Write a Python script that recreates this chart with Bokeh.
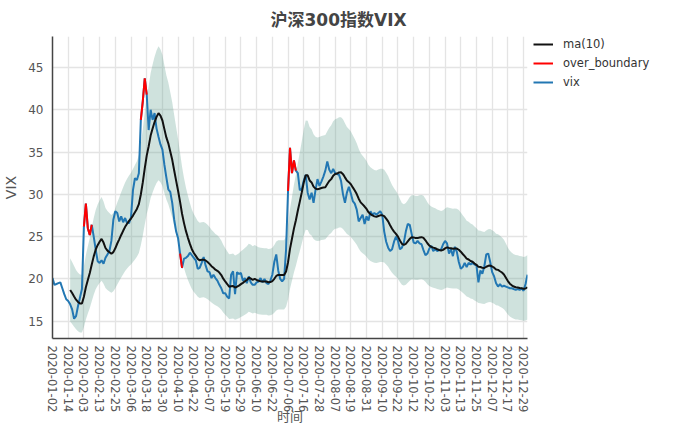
import math
import numpy as np
import pandas as pd
from bokeh.plotting import figure
from bokeh.layouts import row
from bokeh.models import Range1d, FixedTicker, Legend, LegendItem, ColumnDataSource
from bokeh.embed import file_html
from bokeh.resources import INLINE

# ---- data ----
tick_labels = ["2020-01-02", "2020-01-14", "2020-02-03", "2020-02-13", "2020-02-25",
               "2020-03-06", "2020-03-18", "2020-03-30", "2020-04-10", "2020-04-22",
               "2020-05-07", "2020-05-19", "2020-05-29", "2020-06-10", "2020-06-22",
               "2020-07-06", "2020-07-16", "2020-07-28", "2020-08-07", "2020-08-19",
               "2020-08-31", "2020-09-10", "2020-09-22", "2020-10-12", "2020-10-22",
               "2020-11-03", "2020-11-13", "2020-11-25", "2020-12-07", "2020-12-17",
               "2020-12-29"]
tick_step = 8

vix = [
    20.1, 19.3, 19.4, 19.5, 19.6, 18.9, 18.2, 17.6, 17.4, 17.0,
    16.4, 15.3, 15.6, 16.8, 17.8, 18.8, 26.2, 28.9, 26.0, 25.2,
    26.4, 25.0, 23.5, 22.1, 21.9, 22.2, 21.8, 22.5, 22.9, 23.3,
    24.5, 27.0, 28.0, 27.8, 26.8, 27.4, 26.7, 27.2, 26.6, 26.6,
    27.3, 30.5, 31.9, 31.7, 32.5, 38.8, 41.0, 43.7, 41.8, 37.6,
    40.0, 38.8, 39.6, 37.8, 36.8, 35.9, 35.3, 33.5, 32.0, 30.6,
    30.3, 29.0, 27.0, 25.6, 24.8, 23.0, 21.3, 22.4, 22.5, 22.7,
    23.1, 22.8, 22.5, 22.2, 21.2, 21.3, 21.9, 22.6, 21.6, 20.9,
    20.8, 20.1, 20.5, 20.1, 19.8, 19.3, 18.9, 18.3, 18.3, 17.9,
    17.7, 20.5, 20.9, 18.2, 20.8, 20.6, 20.7, 19.8, 20.1, 19.5,
    20.3, 19.6, 19.3, 19.3, 19.6, 19.7, 20.1, 19.6, 20.0, 19.5,
    19.4, 19.8, 20.5, 22.0, 22.9, 21.0, 20.0, 19.7, 20.0, 23.5,
    30.4, 35.5, 32.5, 34.0, 32.8, 32.5, 30.5, 30.6, 31.6, 32.3,
    30.2, 29.4, 30.2, 29.0, 30.5, 31.8, 31.0, 31.5, 32.1, 32.8,
    33.9, 32.9, 32.5, 33.0, 32.5, 32.4, 32.3, 31.6, 30.0, 29.0,
    30.2, 30.9, 30.1, 29.2, 28.9, 28.2, 26.8, 27.2, 27.6, 26.5,
    27.4, 26.9, 28.0, 27.6, 27.8, 27.6, 27.8, 28.0, 27.6, 25.6,
    24.4, 23.7, 23.3, 23.5, 24.4, 25.0, 24.5, 23.5, 23.7, 24.3,
    25.6, 26.5, 26.4, 25.3, 24.3, 24.2, 24.5, 24.2, 24.1, 23.4,
    22.8, 23.0, 23.6, 23.9, 23.3, 23.5, 23.3, 23.4, 23.5, 24.1,
    24.5, 24.2, 23.0, 23.5, 22.7, 23.8, 23.2, 22.0, 21.2, 21.4,
    21.9, 21.4, 21.9, 21.7, 21.9, 21.7, 21.6, 19.6, 21.0, 20.6,
    21.5, 22.9, 23.0, 22.0, 20.8, 20.3, 19.5, 19.1, 19.4, 19.1,
    19.2, 19.1, 19.0, 18.9, 18.9, 18.8, 18.7, 18.8, 18.7, 18.9,
    18.6, 19.4, 20.5,
]
ma_window = 10
band_ratio = 0.2

# ---- derived series ----
s = pd.Series(vix, dtype=float)
ma = s.rolling(ma_window).mean()
upper = ma * (1 + band_ratio)
lower = ma * (1 - band_ratio)
outside = (s > upper) | (s < lower)
over = s.where(outside)
x = np.arange(len(vix))

src = ColumnDataSource(dict(x=x, vix=s.values, ma=ma.values, over=over.values))
valid = ma.notna().values
band_src = ColumnDataSource(dict(x=x[valid], lo=lower.values[valid], hi=upper.values[valid]))

FONT = "'DejaVu Sans', 'Noto Sans CJK SC', sans-serif"
H = 427

p = figure(width=533, height=H, output_backend="svg", toolbar_location=None,
           x_range=Range1d(0, len(vix) - 1), y_range=Range1d(12.96, 48.66),
           min_border_left=50, min_border_right=6, min_border_top=0,
           min_border_bottom=0)
p.outline_line_color = None
p.background_fill_color = "white"
p.border_fill_color = "white"

p.title.text = "沪深300指数VIX"
p.title.align = "left"
p.title.offset = 218
p.title.standoff = 14
p.title.text_font = FONT
p.title.text_font_size = "17px"
p.title.text_font_style = "bold"
p.title.text_color = "#444444"

p.varea(x="x", y1="lo", y2="hi", source=band_src, fill_color="#5f9e8f", fill_alpha=0.3)
r_vix = p.line("x", "vix", source=src, line_color="#2277b3", line_width=2)
r_over = p.line("x", "over", source=src, line_color="red", line_width=2)
r_ma = p.line("x", "ma", source=src, line_color="#111111", line_width=2)

ticks = list(range(0, len(vix), tick_step))
p.xaxis.ticker = FixedTicker(ticks=ticks)
p.xaxis.major_label_overrides = {t: lab for t, lab in zip(ticks, tick_labels)}
p.xaxis.major_label_orientation = -math.pi / 2
p.yaxis.ticker = FixedTicker(ticks=[15, 20, 25, 30, 35, 40, 45])
p.xaxis.axis_label = "时间"
p.yaxis.axis_label = "VIX"
for ax in (p.xaxis[0], p.yaxis[0]):
    ax.major_tick_line_color = None
    ax.minor_tick_line_color = None
    ax.major_tick_out = 0
    ax.major_tick_in = 0
    ax.axis_line_color = "#444444"
    ax.axis_line_width = 1.5
    ax.major_label_text_font = FONT
    ax.major_label_text_color = "#555555"
    ax.axis_label_text_font = FONT
    ax.axis_label_text_font_style = "normal"
    ax.axis_label_text_color = "#555555"
p.xaxis.major_label_text_font_size = "11.5px"
p.yaxis.major_label_text_font_size = "12px"
p.xaxis.axis_label_text_font_size = "13px"
p.xaxis.axis_label_text_line_height = 0.6
p.yaxis.axis_label_text_font_size = "14px"
p.xaxis.major_label_standoff = 7
p.xaxis.axis_label_standoff = -6
p.yaxis.major_label_standoff = 9
p.yaxis.axis_label_standoff = 6

p.xgrid.ticker = FixedTicker(ticks=ticks)
for g in (p.xgrid[0], p.ygrid[0]):
    g.grid_line_color = "#e4e4e4"
    g.grid_line_width = 1.3

# ---- legend panel (a separate, axis-less figure to the right) ----
q = figure(width=127, height=H, output_backend="svg", toolbar_location=None,
           x_range=Range1d(0, 1), y_range=Range1d(0, 1),
           x_axis_location=None, y_axis_location=None,
           min_border_left=0, min_border_top=29, min_border_right=0,
           min_border_bottom=0)
q.outline_line_color = None
q.grid.visible = False
# legend proxies: lines placed outside the visible range of this panel
q_ma = q.line([0, 1], [-5, -5], line_color="#111111", line_width=2)
q_over = q.line([0, 1], [-5, -5], line_color="red", line_width=2)
q_vix = q.line([0, 1], [-5, -5], line_color="#2277b3", line_width=2)

legend = Legend(items=[LegendItem(label="ma(10)", renderers=[q_ma]),
                       LegendItem(label="over_boundary", renderers=[q_over]),
                       LegendItem(label="vix", renderers=[q_vix])],
                location="top_left", padding=7, margin=0, spacing=3,
                glyph_width=20, glyph_height=16, label_height=16, label_standoff=10,
                label_text_font=FONT, label_text_font_size="11.5px",
                label_text_color="#333333", border_line_color=None,
                background_fill_alpha=0)
q.add_layout(legend)

layout = row(p, q)
open("out.html", "w").write(file_html(layout, INLINE))
